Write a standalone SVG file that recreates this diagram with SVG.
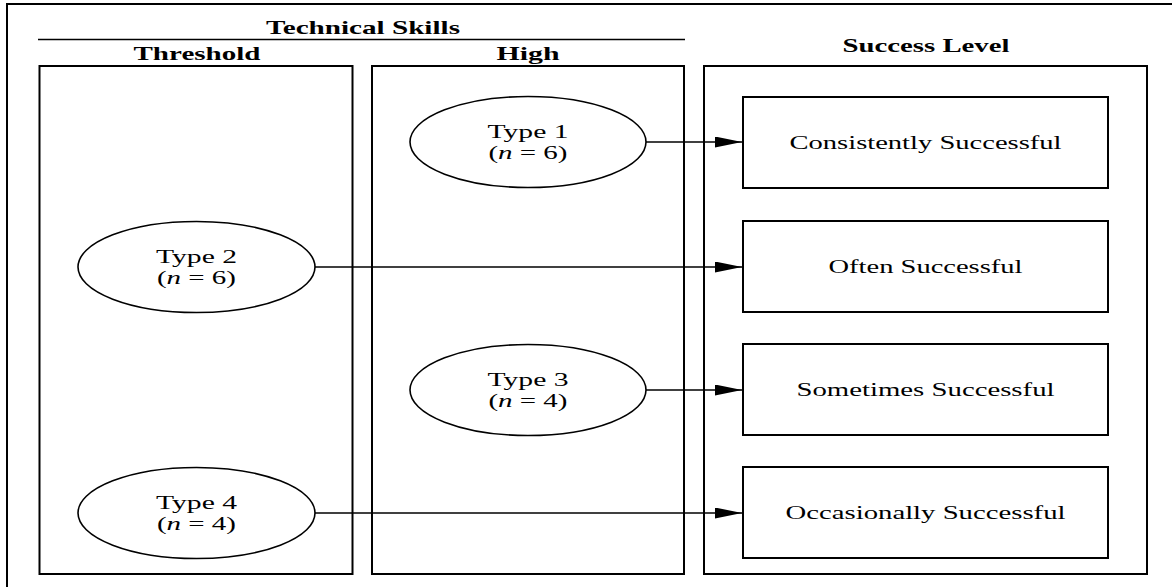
<svg xmlns="http://www.w3.org/2000/svg" width="1172" height="587" viewBox="0 0 1172 587">
<style>
  .frame { fill: none; stroke: #000; stroke-width: 2; }
  .col { fill: none; stroke: #000; stroke-width: 2; }
  .ell { fill: #fff; stroke: #000; stroke-width: 1.6; }
  .box { fill: #fff; stroke: #000; stroke-width: 2; }
  .hdr { font-family: "Liberation Serif", "Times New Roman", serif; font-size: 19px; font-weight: bold; text-anchor: middle; fill: #000; }
  .lbl { font-family: "Liberation Serif", "Times New Roman", serif; font-size: 19px; text-anchor: middle; fill: #000; }
  .conn { stroke: #000; stroke-width: 1.5; fill: none; marker-end: url(#arr); }
</style>
<defs>
  <marker id="arr" markerUnits="userSpaceOnUse" markerWidth="28" markerHeight="12" refX="27" refY="5.5" orient="auto">
    <polygon points="0,0 27,5.5 0,11" fill="#000"/>
  </marker>
</defs>
<rect width="1172" height="587" fill="#fff"/>
<g id="frame">
  <path class="frame" d="M7,587 V4 H1172"/>
</g>
<g id="headers">
  <text class="hdr" x="363" y="34" textLength="194" lengthAdjust="spacingAndGlyphs">Technical Skills</text>
  <line x1="38" y1="39.5" x2="685" y2="39.5" stroke="#000" stroke-width="1.6"/>
  <text class="hdr" x="197" y="60" textLength="127" lengthAdjust="spacingAndGlyphs">Threshold</text>
  <text class="hdr" x="528" y="60" textLength="63" lengthAdjust="spacingAndGlyphs">High</text>
  <text class="hdr" x="926" y="52" textLength="167" lengthAdjust="spacingAndGlyphs">Success Level</text>
</g>
<g id="columns">
  <rect id="col-threshold" class="col" x="39.5" y="66" width="313" height="508"/>
  <rect id="col-high" class="col" x="372" y="66" width="312" height="508"/>
  <rect id="col-success" class="col" x="704" y="66" width="443" height="508"/>
</g>
<g id="connectors">
  <line class="conn" x1="646" y1="142" x2="742" y2="142"/>
  <line class="conn" x1="315" y1="267" x2="742" y2="267"/>
  <line class="conn" x1="646" y1="390" x2="742" y2="390"/>
  <line class="conn" x1="315" y1="513" x2="742" y2="513"/>
</g>
<g id="type1">
  <ellipse class="ell" cx="528" cy="142" rx="118" ry="45.5"/>
  <text class="lbl" x="528" y="138" textLength="81" lengthAdjust="spacingAndGlyphs">Type 1</text>
  <text class="lbl" x="528" y="159" textLength="79" lengthAdjust="spacingAndGlyphs">(<tspan font-style="italic">n</tspan> = 6)</text>
</g>
<g id="type2">
  <ellipse class="ell" cx="196.5" cy="267" rx="118.5" ry="45.5"/>
  <text class="lbl" x="196.5" y="263" textLength="81" lengthAdjust="spacingAndGlyphs">Type 2</text>
  <text class="lbl" x="196.5" y="284" textLength="79" lengthAdjust="spacingAndGlyphs">(<tspan font-style="italic">n</tspan> = 6)</text>
</g>
<g id="type3">
  <ellipse class="ell" cx="528" cy="390" rx="118" ry="45.5"/>
  <text class="lbl" x="528" y="386" textLength="81" lengthAdjust="spacingAndGlyphs">Type 3</text>
  <text class="lbl" x="528" y="407" textLength="79" lengthAdjust="spacingAndGlyphs">(<tspan font-style="italic">n</tspan> = 4)</text>
</g>
<g id="type4">
  <ellipse class="ell" cx="196.5" cy="513" rx="118.5" ry="45.5"/>
  <text class="lbl" x="196.5" y="509" textLength="81" lengthAdjust="spacingAndGlyphs">Type 4</text>
  <text class="lbl" x="196.5" y="530" textLength="79" lengthAdjust="spacingAndGlyphs">(<tspan font-style="italic">n</tspan> = 4)</text>
</g>
<g id="consistently">
  <rect class="box" x="743" y="97" width="365" height="91"/>
  <text class="lbl" x="925.5" y="149" textLength="272" lengthAdjust="spacingAndGlyphs">Consistently Successful</text>
</g>
<g id="often">
  <rect class="box" x="743" y="221" width="365" height="91"/>
  <text class="lbl" x="925.5" y="273" textLength="194" lengthAdjust="spacingAndGlyphs">Often Successful</text>
</g>
<g id="sometimes">
  <rect class="box" x="743" y="344" width="365" height="91"/>
  <text class="lbl" x="925.5" y="396" textLength="258" lengthAdjust="spacingAndGlyphs">Sometimes Successful</text>
</g>
<g id="occasionally">
  <rect class="box" x="743" y="467" width="365" height="91"/>
  <text class="lbl" x="925.5" y="519" textLength="280" lengthAdjust="spacingAndGlyphs">Occasionally Successful</text>
</g>
</svg>
